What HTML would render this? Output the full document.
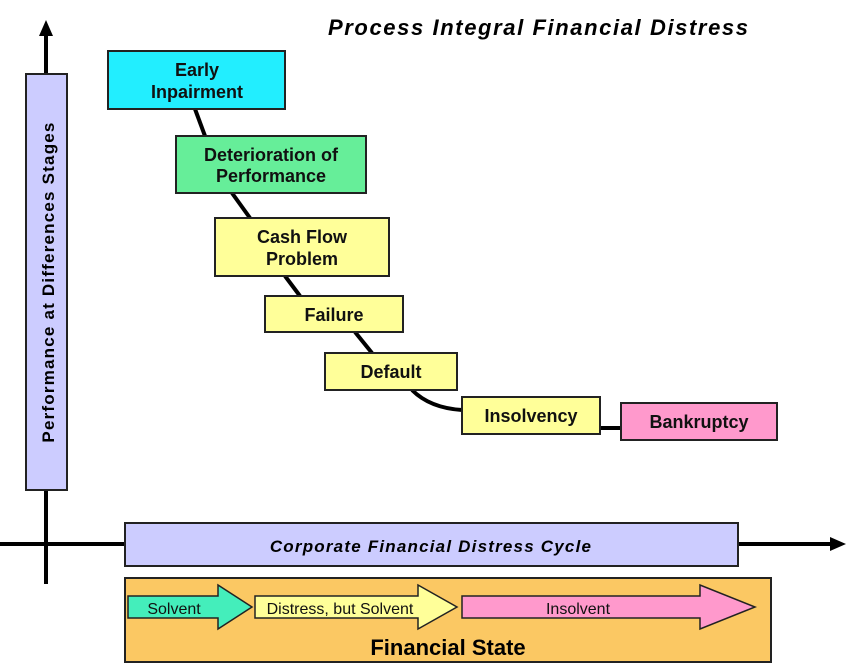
<!DOCTYPE html>
<html><head><meta charset="utf-8"><style>body{margin:0;background:#fff}svg{display:block}</style></head><body>
<svg width="850" height="666" viewBox="0 0 850 666" xmlns="http://www.w3.org/2000/svg" font-family="Liberation Sans, Arial, sans-serif">
<text x="328" y="35" font-size="22" font-weight="bold" font-style="italic" letter-spacing="1.6">Process Integral Financial Distress</text>
<line x1="46" y1="32" x2="46" y2="584" stroke="#000" stroke-width="4"/>
<polygon points="46,20 39,36 53,36" fill="#000"/>
<line x1="0" y1="544" x2="832" y2="544" stroke="#000" stroke-width="4"/>
<polygon points="846,544 830,537 830,551" fill="#000"/>
<rect x="26" y="74" width="41" height="416" fill="#ccccff" stroke="#222" stroke-width="2"/>
<text transform="translate(54,282) rotate(-90)" text-anchor="middle" font-size="17" font-weight="bold" letter-spacing="1.2">Performance at Differences Stages</text>
<g fill="none" stroke="#000" stroke-width="4">
<path d="M195,109 L205,136"/><path d="M232,193 L250,218"/><path d="M285,276 L300,296"/><path d="M355,332 L372,353"/>
<path d="M412,390 Q430,408 462,410"/><path d="M600,428 L621,428"/>
</g>
<g stroke="#222" stroke-width="2" font-weight="bold" font-size="18" text-anchor="middle">
<rect x="108" y="51" width="177" height="58" fill="#22eeff"/>
<rect x="176" y="136" width="190" height="57" fill="#66ee99"/>
<rect x="215" y="218" width="174" height="58" fill="#ffff99"/>
<rect x="265" y="296" width="138" height="36" fill="#ffff99"/>
<rect x="325" y="353" width="132" height="37" fill="#ffff99"/>
<rect x="462" y="397" width="138" height="37" fill="#ffff99"/>
<rect x="621" y="403" width="156" height="37" fill="#ff99cc"/>
</g>
<g font-weight="bold" font-size="18" text-anchor="middle" fill="#111">
<text x="197" y="76">Early</text><text x="197" y="98">Inpairment</text>
<text x="271" y="161">Deterioration of</text><text x="271" y="182">Performance</text>
<text x="302" y="243">Cash Flow</text><text x="302" y="265">Problem</text>
<text x="334" y="321">Failure</text>
<text x="391" y="378">Default</text>
<text x="531" y="422">Insolvency</text>
<text x="699" y="428">Bankruptcy</text>
</g>
<rect x="125" y="523" width="613" height="43" fill="#ccccff" stroke="#222" stroke-width="2"/>
<text x="431" y="552" text-anchor="middle" font-size="17" font-weight="bold" font-style="italic" letter-spacing="1.2">Corporate Financial Distress Cycle</text>
<rect x="125" y="578" width="646" height="84" fill="#fbc863" stroke="#222" stroke-width="2"/>
<g stroke="#222" stroke-width="1.5">
<polygon points="128,596 218,596 218,585 252,607 218,629 218,618 128,618" fill="#44eebb"/>
<polygon points="255,596 418,596 418,585 457,607 418,629 418,618 255,618" fill="#ffff99"/>
<polygon points="462,596 700,596 700,585 755,607 700,629 700,618 462,618" fill="#ff99cc"/>
</g>
<g font-size="16" text-anchor="middle" fill="#111">
<text x="174" y="614">Solvent</text>
<text x="340" y="614">Distress, but Solvent</text>
<text x="578" y="614">Insolvent</text>
</g>
<text x="448" y="655" text-anchor="middle" font-size="22" font-weight="bold">Financial State</text>
</svg>
</body></html>
